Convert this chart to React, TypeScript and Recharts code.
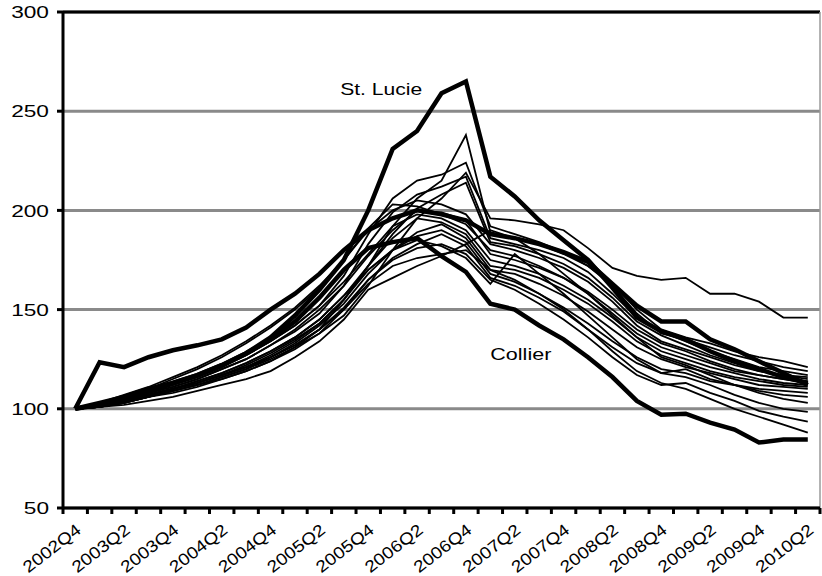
import React from 'react';
import { LineChart, Line, XAxis, YAxis, CartesianGrid, ReferenceLine, ReferenceDot } from 'recharts';

const categories = [
  '2002Q4','2003Q1','2003Q2','2003Q3','2003Q4','2004Q1','2004Q2','2004Q3','2004Q4',
  '2005Q1','2005Q2','2005Q3','2005Q4','2006Q1','2006Q2','2006Q3','2006Q4',
  '2007Q1','2007Q2','2007Q3','2007Q4','2008Q1','2008Q2','2008Q3','2008Q4',
  '2009Q1','2009Q2','2009Q3','2009Q4','2010Q1','2010Q2',
];

const yTicks = [50, 100, 150, 200, 250, 300];

// thick series
const stLucie = [100,103,106,110,113,117,122,128,136,147,160,175,200,231,240,259,265,217,207,195,185,175,161,146,139,135,129,124,120,116,113];
const collier = [100,102,105,109,113,117,122,128,135,144,156,170,181,184,186,177,169,153,150,142,135,126,116,104,97,97.5,93,89.5,83,84.5,84.5];
const miami = [100,123.5,121,126,129.5,132,135,141,150,158,168,180,190,196,200,198,195,188,186,183,179,174,163,152,144,144,135,130,124,118,112];

// thin series
const t1 = [100,101,104,107,110,113,117,121,126,132,140,155,172,192,206,215,238,189,186,183,178,172,163,150,140,136,133,129,126,124,121];
const t2 = [100,101,103,106,109,112,116,120,125,131,138,147,162,180,196,206,219,196,195,193,190,181,171,167,165,166,158,158,154,146,146];
const t3 = [100,102,105,109,112,116,121,127,134,142,152,167,188,206,215,218,224,192,188,184,179,172,162,148,138,135,131,127,124,121,119];
const t4 = [100,102,105,108,111,115,120,125,132,139,148,162,183,199,208,212,217,186,183,180,176,169,158,146,139,134,129,125,121,119,117];
const t5 = [100,101,104,107,110,113,117,122,128,135,143,155,172,188,201,208,214,184,182,178,173,166,156,144,137,132,127,123,119,117,115];
const t6 = [100,103,107,111,116,121,127,134,142,151,162,175,190,200,205,203,198,183,180,176,171,164,154,142,134,130,126,122,119,117,116];
const t7 = [100,102,106,110,115,120,126,133,141,150,161,175,191,203,202,198,193,180,177,172,166,158,148,138,131,127,123,119,117,115,114];
const t8 = [100,101,104,108,111,115,120,125,132,140,150,162,177,190,200,199,195,178,175,171,166,159,150,140,133,129,124,120,117,115,113];
const t9 = [100,102,105,108,112,116,121,127,134,142,152,164,178,192,198,196,190,175,172,168,162,155,146,136,129,125,121,118,115,113,112];
const t10 = [100,101,104,107,110,114,118,123,129,136,145,157,172,186,196,194,188,172,170,166,160,153,144,134,127,123,119,116,114,112,111];
const t11 = [100,101,103,106,109,112,116,120,126,133,142,153,168,180,189,193,186,170,168,163,157,149,140,131,125,121,118,115,112,111,110];
const t12 = [100,102,104,107,110,113,117,121,127,134,143,155,170,180,187,190,184,168,164,158,151,143,134,126,120,118,114,112,110,109,108];
const t13 = [100,101,103,106,108,111,115,119,124,131,140,151,165,176,183,188,182,166,162,156,149,140,131,123,118,120,115,112,109,107,106];
const t14 = [100,101,102,104,106,109,112,115,119,126,134,145,160,166,172,177,183,190,186,178,168,158,147,136,126,122,117,112,108,105,103];
const t15 = [100,102,104,107,110,114,118,123,129,136,145,157,170,180,185,182,176,163,178,168,158,147,136,125,118,116,112,107,103,100,98.5];
const t16 = [100,101,103,106,109,112,115,119,124,130,138,150,165,175,181,183,178,165,160,153,145,136,126,117,112,113,108,104,99,96,93.5];
const t17 = [100,101,104,107,110,113,117,121,126,132,140,150,163,172,176,178,180,170,165,158,150,140,129,119,113,110,105,100,96,92,88];

const thinSeries = [t1, t2, t3, t4, t5, t6, t7, t8, t9, t10, t11, t12, t13, t14, t15, t16, t17];

const rows = categories.map((c, i) => {
  const r: Record<string, number | string> = { idx: i, cat: c, stLucie: stLucie[i], collier: collier[i], miami: miami[i] };
  thinSeries.forEach((s, k) => { r['t' + k] = s[i]; });
  return r;
});

const W = 822;
const H = 576;
const MARGIN = { top: 12, right: 2, left: 8, bottom: 0 };
const Y_AXIS_W = 55;
const X_AXIS_H = 68;
const PLOT_W = W - MARGIN.left - Y_AXIS_W - MARGIN.right;
const AXIS_Y = H - MARGIN.bottom - X_AXIS_H;
const AXIS_X = MARGIN.left + Y_AXIS_W;
const BAND = PLOT_W / categories.length;
const FONT = '"Liberation Sans", Arial, Helvetica, sans-serif';
const X_LABEL_ANGLE = -37.6;
const X_LABEL_LEN = 68;
const DIGIT_W = 12.6;

const XTick = (props: any) => {
  const { x, payload } = props;
  const i = payload.value as number;
  const left = x - BAND / 2;
  const ex = x + 7;
  const ey = AXIS_Y + 24;
  return (
    <g>
      <line x1={left} x2={left} y1={AXIS_Y} y2={AXIS_Y + 6} stroke="#000" strokeWidth={3} />
      {i === categories.length - 1 && (
        <line x1={x + BAND / 2} x2={x + BAND / 2} y1={AXIS_Y} y2={AXIS_Y + 6} stroke="#000" strokeWidth={3} />
      )}
      {i % 2 === 0 && (
        <text
          x={ex}
          y={ey}
          transform={`rotate(${X_LABEL_ANGLE} ${ex} ${ey})`}
          textAnchor="end"
          textLength={X_LABEL_LEN}
          lengthAdjust="spacingAndGlyphs"
          fontSize={16.5}
          fontFamily={FONT}
          fill="#000"
        >
          {categories[i]}
        </text>
      )}
    </g>
  );
};

const YTick = (props: any) => {
  const { y, payload } = props;
  const label = String(payload.value);
  return (
    <text
      x={AXIS_X - 14}
      y={y}
      dy="0.36em"
      textAnchor="end"
      textLength={label.length * DIGIT_W}
      lengthAdjust="spacingAndGlyphs"
      fontSize={17}
      fontFamily={FONT}
      fill="#000"
    >
      {label}
    </text>
  );
};

const Anno = (text: string, len: number) => (props: any) => {
  const vb = props.viewBox || {};
  const cx = (vb.x ?? 0) + (vb.width ?? 0) / 2;
  const cy = (vb.y ?? 0) + (vb.height ?? 0) / 2;
  return (
    <text
      x={cx}
      y={cy}
      textAnchor="start"
      textLength={len}
      lengthAdjust="spacingAndGlyphs"
      fontSize={16.5}
      fontFamily={FONT}
      fill="#000"
    >
      {text}
    </text>
  );
};

export default function App() {
  return (
    <div style={{ position: 'absolute', left: 0, top: 0, width: W, height: H, background: '#fff' }}>
      <LineChart width={W} height={H} data={rows} margin={MARGIN}>
        <CartesianGrid vertical={false} stroke="#8a8a8a" strokeWidth={3} />
        <XAxis
          dataKey="idx"
          type="number"
          domain={[-0.5, 30.5]}
          ticks={categories.map((_, i) => i)}
          interval={0}
          height={X_AXIS_H}
          tickSize={0}
          tickMargin={0}
          tickLine={false}
          axisLine={{ stroke: '#000', strokeWidth: 3 }}
          tick={<XTick />}
          allowDataOverflow
        />
        <YAxis
          type="number"
          domain={[50, 300]}
          ticks={yTicks}
          width={Y_AXIS_W}
          tickSize={6}
          tickMargin={0}
          tickLine={{ stroke: '#000', strokeWidth: 3 }}
          axisLine={{ stroke: '#000', strokeWidth: 3 }}
          tick={<YTick />}
          allowDataOverflow
        />
        <ReferenceLine y={300} stroke="#000" strokeWidth={3} />
        <ReferenceLine x={30.5} stroke="#9a9a9a" strokeWidth={1.5} />
        {thinSeries.map((_, k) => (
          <Line
            key={k}
            type="linear"
            dataKey={'t' + k}
            stroke="#000"
            strokeWidth={1.8}
            dot={false}
            isAnimationActive={false}
          />
        ))}
        <Line type="linear" dataKey="miami" stroke="#000" strokeWidth={4.5} dot={false} isAnimationActive={false} />
        <Line type="linear" dataKey="collier" stroke="#000" strokeWidth={4.5} dot={false} isAnimationActive={false} />
        <Line type="linear" dataKey="stLucie" stroke="#000" strokeWidth={4.5} dot={false} isAnimationActive={false} />
        <ReferenceDot x={10.85} y={258} r={0} fill="none" stroke="none" label={Anno('St. Lucie', 82)} />
        <ReferenceDot x={17} y={124.6} r={0} fill="none" stroke="none" label={Anno('Collier', 61)} />
      </LineChart>
    </div>
  );
}
